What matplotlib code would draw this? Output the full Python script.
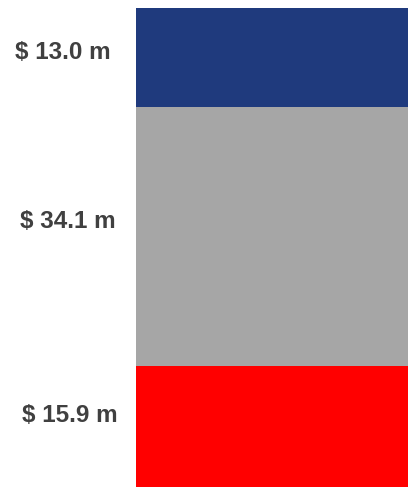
import matplotlib.pyplot as plt

# Segments from bottom to top
segments = ['Bottom', 'Middle', 'Top']
values = [15.9, 34.1, 13.0]
labels = ['$ 15.9 m', '$ 34.1 m', '$ 13.0 m']
colors = ['#FF0000', '#A6A6A6', '#1F3A7D']

# small vertical nudge of each label (data units)
label_nudge = [1.4, 2.0, 0.7]
label_x = [-0.745, -0.75, -0.77]

fig = plt.figure(figsize=(4.08, 4.87), dpi=100)
ax = fig.add_axes([136 / 408, 0.5 / 487, 272 / 408, 478.5 / 487])

bottom = 0
for i, v in enumerate(values):
    ax.bar(0, v, bottom=bottom, width=1.0, color=colors[i], linewidth=0)
    ax.text(label_x[i], bottom + v / 2 + label_nudge[i], labels[i],
            ha='center', va='center', fontsize=17.5, fontweight='bold',
            color='#404040', family='Liberation Sans')
    bottom += v

ax.set_xlim(-0.5, 0.5)
ax.set_ylim(0, sum(values))
ax.axis('off')

fig.savefig('out.png', dpi=100)
